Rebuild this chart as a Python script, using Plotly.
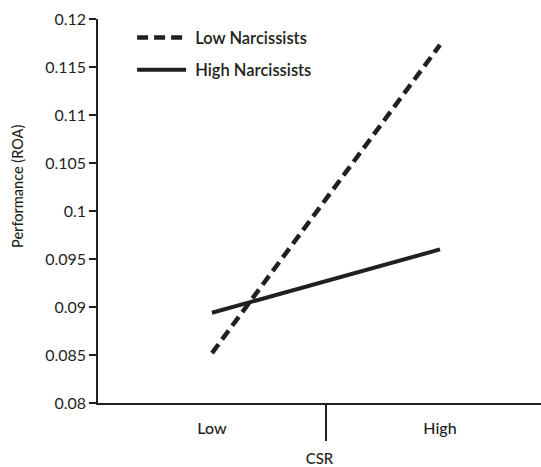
import plotly.graph_objects as go

csr_levels = ["Low", "High"]
csr_pos = [0, 1]
low_narc = [0.0852, 0.1173]
high_narc = [0.0894, 0.0960]
series_names = ["Low Narcissists", "High Narcissists"]
y_ticks = [0.08, 0.085, 0.09, 0.095, 0.1, 0.105, 0.11, 0.115, 0.12]
y_ticktext = ["0.08", "0.085", "0.09", "0.095", "0.1", "0.105", "0.11", "0.115", "0.12"]
x_title = "CSR"
y_title = "Performance (ROA)"

ink = "#231f20"
font_family = "Lato, 'Open Sans', sans-serif"
nbsp = "\u00a0"

fig = go.Figure()
fig.add_trace(go.Scatter(x=csr_pos, y=low_narc, mode="lines", name=nbsp + series_names[0],
                         legendgroup="a",
                         line=dict(color=ink, width=4.5, dash="11px,6px")))
fig.add_trace(go.Scatter(x=csr_pos, y=high_narc, mode="lines", name=nbsp + series_names[1],
                         legendgroup="b",
                         line=dict(color=ink, width=4)))

fig.update_layout(
    width=541, height=467,
    margin=dict(l=98, r=0, t=19, b=64, autoexpand=False),
    paper_bgcolor="white", plot_bgcolor="white",
    font=dict(family=font_family, color=ink, size=16),
    legend=dict(x=0.077, y=0.997, xanchor="left", yanchor="top",
                bgcolor="rgba(0,0,0,0)", itemwidth=49,
                traceorder="grouped", tracegroupgap=8,
                font=dict(size=16.5, family=font_family, weight=600)),
    showlegend=True,
    annotations=[dict(text=y_title, xref="paper", yref="paper", x=0, y=0.5625,
                      xanchor="center", yanchor="middle", xshift=-81, textangle=-90,
                      showarrow=False, font=dict(size=14.5, weight=500, color=ink))],
)
fig.update_xaxes(
    range=[-0.5, 1.443], tickvals=csr_pos, ticktext=csr_levels, ticks="",
    showline=True, linecolor=ink, linewidth=1.5, showgrid=False, zeroline=False,
    automargin=False,
    tickfont=dict(size=16, weight=500), ticklabelstandoff=10,
    minor=dict(tickvals=[0.5], ticks="outside", ticklen=36, tickwidth=1.5, tickcolor=ink, showgrid=False),
    title=dict(text=x_title, font=dict(size=15, weight=500), standoff=25),
)
fig.update_yaxes(
    range=[0.08, 0.12], tickvals=y_ticks, ticktext=y_ticktext, ticks="outside", ticklen=7,
    tickwidth=1.5, tickcolor=ink, automargin=False,
    showline=True, linecolor=ink, linewidth=1.5, showgrid=False, zeroline=False,
    tickfont=dict(size=16),
)

fig.write_html("out.html", config={"displayModeBar": False},
               post_script="document.body.style.margin='0';document.body.style.overflow='hidden';")
